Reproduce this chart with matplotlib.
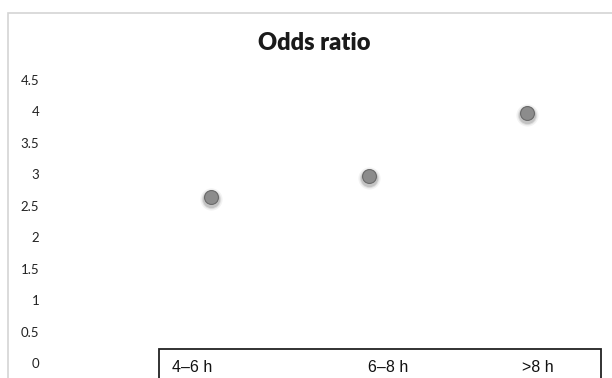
import matplotlib.pyplot as plt
from matplotlib.patches import Rectangle

categories = ["4–6 h", "6–8 h", ">8 h"]
odds = [2.64, 2.97, 3.97]
yticks = [0, 0.5, 1, 1.5, 2, 2.5, 3, 3.5, 4, 4.5]

W, H = 612, 378
fig = plt.figure(figsize=(W / 100, H / 100), dpi=100)

# outer chart frame (light gray)
fig.patches.append(Rectangle((8 / W, -0.1), 1.0, (H - 13) / H + 0.1,
                             transform=fig.transFigure, fill=False,
                             edgecolor="#d4d4d4", linewidth=1.2))

# axes placed so that category 0,1,2 land at px 211, 369, 527
left_px, right_px = 60, 601
step = 158.0
ax = fig.add_axes([left_px / W, (H - 363) / H, (right_px - left_px) / W, (363 - 80) / H])
ax.set_xlim((left_px - 211) / step, (right_px - 211) / step)
ax.set_ylim(0, 4.5)
ax.set_facecolor("none")
for s in ax.spines.values():
    s.set_visible(False)
ax.set_xticks([])
ax.set_yticks(yticks)
ax.set_yticklabels(["%g" % t for t in yticks], fontfamily="Lato", fontsize=9.5, color="#222222")
ax.tick_params(axis="y", length=0, pad=15)

x = list(range(len(categories)))
# soft shadow
for ms, a in [(16, 0.07), (14, 0.12), (12.5, 0.2)]:
    ax.plot(x, [v - 0.03 for v in odds], "o", ms=ms, color="#555555", alpha=a,
            markeredgewidth=0, zorder=2)
ax.plot(x, odds, "o", ms=10, markerfacecolor="#8c8c8c", markeredgecolor="#6a6a6a",
        markeredgewidth=0.8, zorder=3)

fig.text(314 / W, (H - 43) / H, "Odds ratio", ha="center", va="center",
         fontfamily="Lato", fontweight="heavy", fontsize=17, color="#1a1a1a")

# category box at the bottom
fig.patches.append(Rectangle((159 / W, -0.1), (601 - 159) / W, (H - 349) / H + 0.1,
                             transform=fig.transFigure, fill=False,
                             edgecolor="#222222", linewidth=1.3))
label_left = [172, 368, 522]
for lx, lab in zip(label_left, categories):
    fig.text(lx / W, (H - 367) / H, lab, ha="left", va="center",
             fontfamily="Liberation Sans", fontsize=11.5, color="#111111")

fig.savefig("out.png", dpi=100)
